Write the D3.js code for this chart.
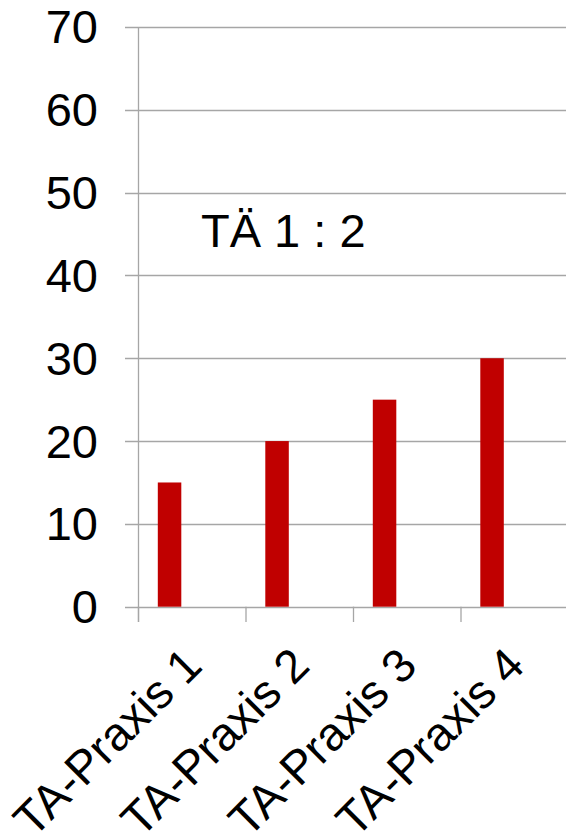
<!DOCTYPE html>
<html><head><meta charset="utf-8">
<script src="https://cdn.jsdelivr.net/npm/d3@7"></script>
<style>
html,body{margin:0;padding:0;background:#fff;overflow:hidden}
text{font-family:Arial,"Liberation Sans",sans-serif;fill:#000}
</style></head>
<body>
<svg id="c" width="566" height="837"></svg>
<script>
const categories = ["TA-Praxis 1","TA-Praxis 2","TA-Praxis 3","TA-Praxis 4"];
const values = [15, 20, 25, 30];
const yTicks = [0,10,20,30,40,50,60,70];
const annotation = "TÄ 1 : 2";

const svg = d3.select("#c");
const x0 = 138.5, step = 107.5;
const x = d3.scaleBand().domain(categories).range([x0, x0 + step*categories.length]).padding(0);
const y = d3.scaleLinear().domain([0,70]).range([606.7, 27]);
const grid = "#a6a6a6";

// gridlines + tick marks
svg.append("g").selectAll("line").data(yTicks).join("line")
  .attr("x1", 125).attr("x2", 570)
  .attr("y1", d => Math.round(y(d))+0.5).attr("y2", d => Math.round(y(d))+0.5)
  .attr("stroke", grid).attr("stroke-width", 1.3);

// y axis line
svg.append("line").attr("x1", x0).attr("x2", x0).attr("y1", y(70)).attr("y2", 622)
  .attr("stroke", grid).attr("stroke-width", 1.3);

// x tick marks
svg.append("g").selectAll("line").data(categories).join("line")
  .attr("x1", d => x(d)).attr("x2", d => x(d))
  .attr("y1", y(0)).attr("y2", 622)
  .attr("stroke", grid).attr("stroke-width", 1.3);

// y labels
svg.append("g").selectAll("text").data(yTicks).join("text")
  .attr("x", 98).attr("y", d => y(d)).attr("dy", "0.35em")
  .attr("text-anchor", "end").attr("font-size", 47)
  .text(d => d);

// bars
svg.append("g").selectAll("rect").data(values).join("rect")
  .attr("x", (d,i) => x(categories[i]) + 19.3)
  .attr("width", 23.5)
  .attr("y", d => y(d)).attr("height", d => y(0) - y(d))
  .attr("fill", "#c00000");

// x labels
svg.append("g").selectAll("text").data(categories).join("text")
  .attr("text-anchor", "end").attr("font-size", 47)
  .attr("transform", d => `translate(${x(d) + x.bandwidth()/2 + 12},668) rotate(-45)`)
  .text(d => d);

// annotation
svg.append("text").attr("x", 201).attr("y", 247).attr("font-size", 47).text(annotation);
</script>
</body></html>
